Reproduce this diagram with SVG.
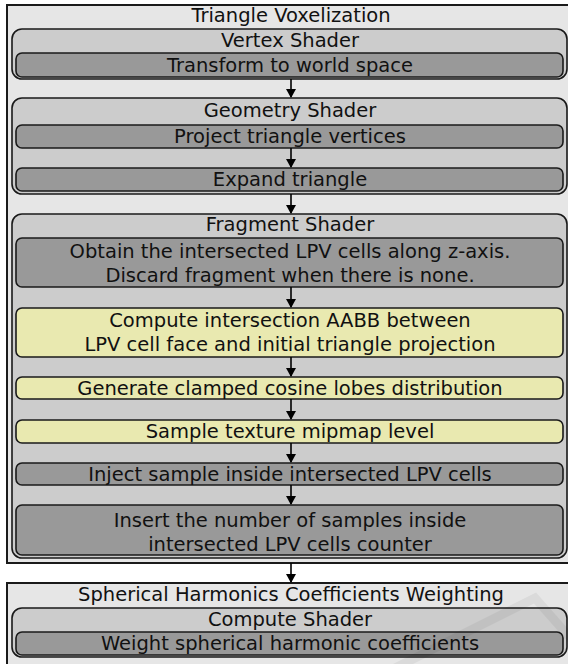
<svg xmlns="http://www.w3.org/2000/svg" width="568" height="664" viewBox="0 0 568 664">
<defs>
<marker id="ah" markerWidth="10" markerHeight="10" refX="8" refY="5" orient="auto" markerUnits="userSpaceOnUse">
<path d="M0,0 L9,5 L0,10 z" fill="#000"/>
</marker>
<style>
.outer{fill:#e6e6e6;stroke:#1a1a1a;stroke-width:2}
.mid{fill:#cccccc;stroke:#1a1a1a;stroke-width:1.6}
.dark{fill:#999999;stroke:#1a1a1a;stroke-width:1.6}
.yel{fill:#e9e9b0;stroke:#1a1a1a;stroke-width:1.6}
text{font-family:"DejaVu Sans","Verdana",sans-serif;font-size:19.5px;fill:#111;text-anchor:middle}
.con line{stroke:#000;stroke-width:1.6;marker-end:url(#ah)}
</style>
</defs>
<rect x="0" y="0" width="568" height="664" fill="#ffffff"/>

<g id="triangle-voxelization">
<rect class="outer" x="7" y="5" width="570" height="558"/>
<text x="291" y="22">Triangle Voxelization</text>
</g>
<g id="vertex-shader">
<rect class="mid" x="12" y="29" width="555" height="50" rx="10"/>
<text x="290" y="47">Vertex Shader</text>
</g>
<g id="transform">
<rect class="dark" x="16" y="53" width="547" height="24" rx="6"/>
<text x="290" y="72">Transform to world space</text>
</g>
<g id="geometry-shader">
<rect class="mid" x="12" y="98" width="555" height="96" rx="10"/>
<text x="290" y="117">Geometry Shader</text>
</g>
<g id="project">
<rect class="dark" x="16" y="125" width="547" height="23" rx="6"/>
<text x="290" y="143">Project triangle vertices</text>
</g>
<g id="expand">
<rect class="dark" x="16" y="168" width="547" height="23" rx="6"/>
<text x="290" y="186">Expand triangle</text>
</g>
<g id="fragment-shader">
<rect class="mid" x="12" y="214" width="555" height="344" rx="10"/>
<text x="290" y="231">Fragment Shader</text>
</g>
<g id="obtain">
<rect class="dark" x="16" y="238" width="547" height="49" rx="6"/>
<text x="290" y="258">Obtain the intersected LPV cells along z-axis.</text>
<text x="290" y="282">Discard fragment when there is none.</text>
</g>
<g id="compute-aabb">
<rect class="yel" x="16" y="308" width="547" height="49" rx="6"/>
<text x="290" y="327">Compute intersection AABB between</text>
<text x="290" y="351">LPV cell face and initial triangle projection</text>
</g>
<g id="generate">
<rect class="yel" x="16" y="377" width="547" height="22" rx="6"/>
<text x="290" y="395">Generate clamped cosine lobes distribution</text>
</g>
<g id="sample">
<rect class="yel" x="16" y="420" width="547" height="23" rx="6"/>
<text x="290" y="438">Sample texture mipmap level</text>
</g>
<g id="inject">
<rect class="dark" x="16" y="463" width="547" height="22" rx="6"/>
<text x="290" y="481">Inject sample inside intersected LPV cells</text>
</g>
<g id="insert">
<rect class="dark" x="16" y="505" width="547" height="50" rx="6"/>
<text x="290" y="527">Insert the number of samples inside</text>
<text x="290" y="551">intersected LPV cells counter</text>
</g>

<g id="sh-weighting">
<rect class="outer" x="7" y="583" width="570" height="90"/>
<text x="291" y="601">Spherical Harmonics Coefficients Weighting</text>
</g>
<g id="compute-shader">
<rect class="mid" x="12" y="608" width="555" height="49" rx="10"/>
<text x="290" y="626">Compute Shader</text>
</g>
<g id="weight">
<rect class="dark" x="16" y="632" width="547" height="23" rx="6"/>
<text x="290" y="650">Weight spherical harmonic coefficients</text>
</g>

<g id="connectors" class="con">
<line x1="291" y1="79" x2="291" y2="97"/>
<line x1="291" y1="148" x2="291" y2="167"/>
<line x1="291" y1="194" x2="291" y2="213"/>
<line x1="291" y1="287" x2="291" y2="307"/>
<line x1="291" y1="357" x2="291" y2="376"/>
<line x1="291" y1="399" x2="291" y2="419"/>
<line x1="291" y1="443" x2="291" y2="462"/>
<line x1="291" y1="485" x2="291" y2="504"/>
<line x1="291" y1="563" x2="291" y2="582"/>
</g>
<path d="M395,668 L535,598 L572,640" fill="none" stroke="#000" stroke-opacity="0.05" stroke-width="9"/>
</svg>
